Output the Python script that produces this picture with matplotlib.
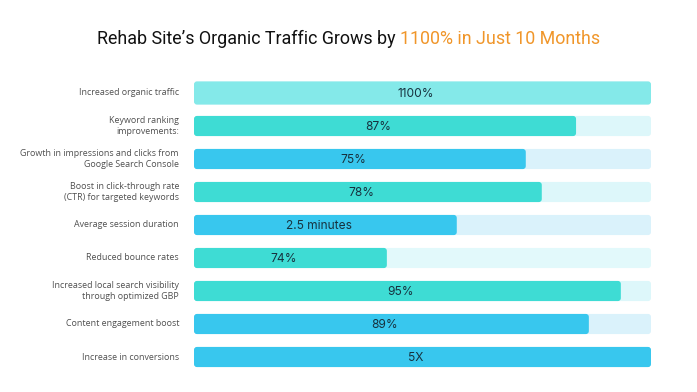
import matplotlib
matplotlib.use("Agg")
import matplotlib.pyplot as plt
from matplotlib.patches import FancyBboxPatch
from matplotlib import transforms

# ---- data ----
categories = [
    "Increased organic traffic",
    "Keyword ranking\nimprovements:",
    "Growth in impressions and clicks from\nGoogle Search Console",
    "Boost in click-through rate\n(CTR) for targeted keywords",
    "Average session duration",
    "Reduced bounce rates",
    "Increased local search visibility\nthrough optimized GBP",
    "Content engagement boost",
    "Increase in conversions",
]
value_labels = ["1100%", "87%", "75%", "78%", "2.5 minutes", "74%", "95%", "89%", "5X"]
# filled share of each track (percent), as drawn in the picture
fill_pct = [100, 83.6, 72.6, 76.1, 57.5, 42.2, 93.4, 86.4, 100]
title_black = "Rehab Site\u2019s Organic Traffic Grows by "
title_orange = "1100% in Just 10 Months"

# ---- styles ----
fill_colors = ["#84E9E9", "#3EDCD4", "#38C7EE", "#3EDCD4", "#38C7EE",
               "#3EDCD4", "#3EDCD4", "#38C7EE", "#38C7EE"]
track_colors = ["#DDF7FA", "#DDF7FA", "#DAF2FB", "#DDF7FA", "#DAF2FB",
                "#E2F9FB", "#DDF7FA", "#DAF2FB", "#DAF2FB"]
bar_heights = [0.70, 0.61, 0.61, 0.61, 0.61, 0.61, 0.61, 0.61, 0.61]

W, H, DPI = 6.97, 3.92, 100
fig = plt.figure(figsize=(W, H), dpi=DPI, facecolor="white")

left_px, right_px = 194, 651
top_px, bot_px = 76.5, 373.5
ax = fig.add_axes([left_px / 697, 1 - bot_px / 392,
                   (right_px - left_px) / 697, (bot_px - top_px) / 392])
ax.set_xlim(0, 100)
ax.set_ylim(len(categories) - 0.5, -0.5)
ax.axis("off")

px_per_x = (right_px - left_px) / 100.0
px_per_y = (bot_px - top_px) / len(categories)
r_px = 3.0
rx = r_px / px_per_x
aspect = (1 / px_per_y) / (1 / px_per_x)

def rbar(x0, y, w, h, color, z):
    p = FancyBboxPatch((x0, y - h / 2), w, h,
                       boxstyle=f"round,pad=0,rounding_size={rx}",
                       mutation_aspect=aspect, facecolor=color,
                       edgecolor="none", zorder=z)
    ax.add_patch(p)

label_tr = transforms.offset_copy(ax.transData, fig=fig, x=-15, y=0, units="dots")
for i, (cat, lab, f) in enumerate(zip(categories, value_labels, fill_pct)):
    h = bar_heights[i]
    rbar(0, i, 100, h, track_colors[i], 1)
    rbar(0, i, f, h, fill_colors[i], 2)
    ax.text(f / 2 - 1.5, i + 0.03, lab, ha="center", va="center", fontsize=8.6,
            family="Inter", color="#17323F", zorder=3)
    ax.text(0, i, cat, transform=label_tr, ha="right", va="center",
            fontsize=6.4, family="Open Sans", color="#505050",
            linespacing=1.4)

# ---- two-colour title ----
fig.canvas.draw()
r = fig.canvas.get_renderer()
tkw = dict(fontsize=12.9, family="Roboto", va="center")
t1 = fig.text(0, 0, title_black, color="#111111", **tkw)
t2 = fig.text(0, 0, title_orange, color="#F0962A", **tkw)
w1 = t1.get_window_extent(r).width
w2 = t2.get_window_extent(r).width
total = w1 + w2
x0 = (697 - total) / 2
ty = 1 - 39 / 392
t1.set_position((x0 / 697, ty))
t2.set_position(((x0 + w1) / 697, ty))

fig.savefig("out.png", dpi=DPI, facecolor="white")
